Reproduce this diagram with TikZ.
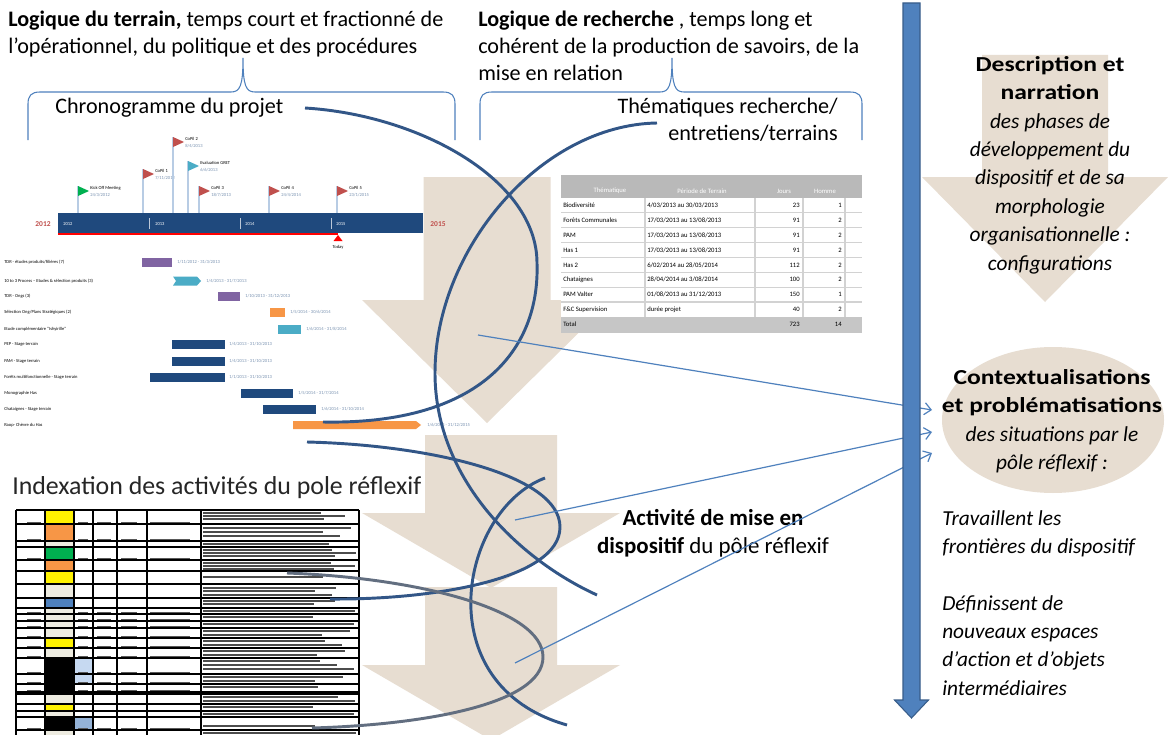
\documentclass[tikz,border=0pt]{standalone}
\usepackage{fontspec}
\setmainfont{Carlito}
\newfontfamily\widefont{Carlito}[FakeStretch=1.2]
\usetikzlibrary{arrows.meta}

\definecolor{beige}{RGB}{231,221,209}
\definecolor{curveblue}{RGB}{50,86,135}
\definecolor{curvegray}{RGB}{98,110,128}
\definecolor{linkblue}{RGB}{79,129,189}
\definecolor{arrowedge}{RGB}{56,93,138}
\definecolor{axisblue}{RGB}{31,73,125}
\definecolor{poleblue}{RGB}{184,204,228}
\definecolor{flagred}{RGB}{192,80,77}
\definecolor{flaggreen}{RGB}{0,176,80}
\definecolor{flagcyan}{RGB}{75,172,198}
\definecolor{gpurple}{RGB}{128,100,162}
\definecolor{gorange}{RGB}{247,150,70}
\definecolor{cellbeige}{RGB}{238,236,225}
\definecolor{cellblue}{RGB}{198,217,241}
\definecolor{cellblue2}{RGB}{149,179,215}

\tikzset{
  toptext/.style={font=\fontsize{16.6}{20.25}\selectfont, inner sep=0pt, align=left},
  righttext/.style={font=\widefont\fontsize{16}{21.3}\selectfont, inner sep=0pt},
  brace/.style={linkblue, line width=0.8pt},
  curve/.style={curveblue, line width=2.2pt},
  link/.style={linkblue, line width=0.9pt, -{Straight Barb[length=5pt,width=9pt]}},
  gtext/.style={font=\fontsize{3.4}{4}\selectfont, inner sep=0pt, anchor=west},
  gdate/.style={font=\fontsize{3.4}{4}\selectfont, text=axisblue!60, inner sep=0pt, anchor=west},
  ttext/.style={font=\fontsize{5}{6}\selectfont, inner sep=0pt},
}

% italic lines on the right are set without stretching
\newcommand{\itline}[1]{{\normalfont\itshape #1}}
% beige block arrow pointing down: centre, shaft half width, top, neck, head half width, tip
\newcommand{\downblock}[6]{%
  \fill[beige] (#1-#2,#3) -- (#1+#2,#3) -- (#1+#2,#4) -- (#1+#5,#4) -- (#1,#6)
    -- (#1-#5,#4) -- (#1-#2,#4) -- cycle;}
% milestone flag: x, top, colour, label, date
\newcommand{\ganttflag}[5]{%
  \draw[poleblue, line width=1.1pt] (#1,#2) -- (#1,213);
  \fill[#3] (#1,#2) -- (#1+11,#2+5) -- (#1,#2+10) -- cycle;
  \node[gtext] (fl#1) at (#1+12,#2+2) {#4};
  \node[gdate] (fd#1) at (#1+12,#2+9) {#5};}
% task row: y, label, x of date, date
\newcommand{\ganttrow}[4]{%
  \node[gtext] (gl#1) at (4,#1) {#2};
  \node[gdate] (gd#1) at (#3,#1) {#4};}
% row of the field table: index, theme, period, days, persons
\newcommand{\themerow}[5]{%
  \node[ttext, anchor=west] (th#1) at (563,190.6+#1*14.86) {#2};
  \node[ttext, anchor=west] (pe#1) at (647,190.6+#1*14.86) {#3};
  \node[ttext, anchor=east] (jo#1) at (800,190.6+#1*14.86) {#4};
  \node[ttext, anchor=east] (ho#1) at (842,190.6+#1*14.86) {#5};}

\begin{document}
\begin{tikzpicture}[x=0.75pt,y=-0.75pt]
\useasboundingbox (0,0) rectangle (1168,735);
\fill[white] (0,0) rectangle (1168,735);

% beige arrows and ellipse
\downblock{487}{63.5}{177}{300}{125}{423}
\downblock{491}{66}{435}{513}{129}{588}
\downblock{491}{66}{587}{665}{129}{740}
\downblock{1045}{63}{55}{177}{123}{302}
\fill[beige] (1053,420) ellipse [x radius=111, y radius=73];

% top texts and braces
\node[toptext, anchor=north west] (terrain) at (8,11)
  {\textbf{Logique du terrain,} temps court et fractionné de\\l’opérationnel, du politique et des procédures};
\node[toptext, anchor=north west] (recherche) at (478,11)
  {\textbf{Logique de recherche} , temps long et\\cohérent de la production de savoirs, de la\\mise en relation};
\draw[brace] (28,140) -- (28,104) .. controls (28,96) and (31,92) .. (40,92) -- (231,92)
  .. controls (240,92) and (243,86) .. (243,58) .. controls (243,86) and (246,92) .. (255,92)
  -- (443,92) .. controls (452,92) and (455,96) .. (455,104) -- (455,140);
\draw[brace] (480,140) -- (480,104) .. controls (480,96) and (483,92) .. (492,92) -- (660,92)
  .. controls (669,92) and (672,86) .. (672,58) .. controls (672,86) and (675,92) .. (684,92)
  -- (850,92) .. controls (859,92) and (862,96) .. (862,104) -- (862,140);
\node[toptext, anchor=west] (chrono) at (55,108) {Chronogramme du projet};
\node[toptext, anchor=north east, align=right] (themes) at (838,98) {Thématiques recherche/\\entretiens/terrains};

% timeline of the project
\fill[axisblue] (58,213) rectangle (423,233);
\draw[red, line width=1.4pt] (58,234) -- (338,234);
\fill[red] (338,235) -- (342.5,241) -- (333.5,241) -- cycle;
\node[gtext, anchor=center] (today) at (338,247) {Today};
\foreach \x/\yr in {63/2012,155/2013,245/2014,336/2015}
  \node[gtext, text=white] (yr\yr) at (\x,224) {\yr};
\foreach \x in {149,240,331}
  \draw[white!70!axisblue, line width=0.5pt] (\x,218) -- (\x,229);
\node[font=\fontsize{5.6}{6}\selectfont\bfseries, text=flagred, inner sep=0pt] (start) at (43,224) {2012};
\node[font=\fontsize{5.6}{6}\selectfont\bfseries, text=flagred, inner sep=0pt] (end) at (438,224) {2015};
\ganttflag{78}{186}{flaggreen}{Kick Off Meeting}{24/3/2012}
\ganttflag{143}{169}{flagred}{CoPil 1}{7/11/2012}
\ganttflag{173}{137}{flagred}{CoPil 2}{8/4/2013}
\ganttflag{188}{161}{flagcyan}{Evaluation GRET}{6/6/2013}
\ganttflag{199}{186}{flagred}{CoPil 3}{18/7/2013}
\ganttflag{269}{186}{flagred}{CoPil 4}{24/4/2014}
\ganttflag{337}{186}{flagred}{CoPil 5}{23/1/2015}

% tasks
\foreach \y/\a/\b/\c in {262/142/172/gpurple, 296/218/240/gpurple, 312/270/285/gorange,
    329/278/301/flagcyan, 344/172/225/axisblue, 361/172/225/axisblue, 377/150/225/axisblue,
    393/241/293/axisblue, 409/263/316/axisblue}
  \fill[\c] (\a,\y-4.5) rectangle (\b,\y+4.5);
\fill[flagcyan] (173,276.5) -- (197,276.5) -- (201,281) -- (197,285.5) -- (173,285.5) -- (176,281) -- cycle;
\fill[gorange] (293,421) -- (416,421) -- (421,425) -- (416,429) -- (293,429) -- cycle;
\ganttrow{262}{TDR - études produits/filières (7)}{177}{1/11/2012 - 31/3/2013}
\ganttrow{281}{10 to 3 Process – Etudes \& sélection produits (3)}{206}{1/4/2013 - 31/7/2013}
\ganttrow{296}{TDR - Ongs (3)}{245}{1/10/2013 - 31/12/2013}
\ganttrow{312}{Sélection Ong/Plans Stratégiques (2)}{290}{1/5/2014 - 30/6/2014}
\ganttrow{329}{Etude complémentaire "Ishyirille"}{306}{1/6/2014 - 31/8/2014}
\ganttrow{344}{PEP - Stage terrain}{229}{1/4/2013 - 31/10/2013}
\ganttrow{361}{PAM - Stage terrain}{229}{1/4/2013 - 31/10/2013}
\ganttrow{377}{Forêts multifonctionnelle - Stage terrain}{229}{1/1/2013 - 31/10/2013}
\ganttrow{393}{Monographie Has}{298}{1/5/2014 - 31/7/2014}
\ganttrow{409}{Chataignes - Stage terrain}{321}{1/6/2014 - 31/10/2014}
\ganttrow{425}{Raop- Chèvre du Has}{427}{1/6/2014 - 31/12/2015}

% table of field work
\fill[white] (561,175) rectangle (862,333);
\fill[gray!55] (561,175) rectangle (862,198);
\fill[gray!45] (561,316.9) rectangle (862,333);
\foreach \i in {1,...,7}
  \draw[gray!35, line width=0.8pt] (561,198+\i*14.86) -- (862,198+\i*14.86);
\foreach \x in {645,755,803,845}
  \draw[gray!35, line width=0.8pt] (\x,198) -- (\x,316.9);
\foreach \x/\h in {610/Thématique,702/Période de Terrain,784/Jours,825/Homme}
  \node[ttext, text=white] (h\x) at (\x,191) {\h};
\themerow{1}{Biodiversité}{4/03/2013 au 30/03/2013}{23}{1}
\themerow{2}{Forêts Communales}{17/03/2013 au 13/08/2013}{91}{2}
\themerow{3}{PAM}{17/03/2013 au 13/08/2013}{91}{2}
\themerow{4}{Has 1}{17/03/2013 au 13/08/2013}{91}{2}
\themerow{5}{Has 2}{6/02/2014 au 28/05/2014}{112}{2}
\themerow{6}{Chataignes}{28/04/2014 au 3/08/2014}{100}{2}
\themerow{7}{PAM Valter}{01/08/2013 au 31/12/2013}{150}{1}
\themerow{8}{F\&C Supervision}{durée projet}{40}{2}
\themerow{9}{Total}{}{723}{14}

% index of the activities
\node[font=\fontsize{19.4}{22}\selectfont, text=black!85, inner sep=0pt, anchor=west] (index) at (12,488)
  {Indexation des activités du pole réflexif};
\foreach \a/\b/\c in {510/524/yellow, 524/541/gorange, 541/547/cellbeige, 547/560/flaggreen,
    560/571/gorange, 571/584/yellow, 584/598/cellbeige, 598/608/linkblue, 608/638/cellbeige,
    638/648/yellow, 648/658/cellbeige, 658/692/black, 692/694/yellow, 694/704/cellbeige,
    704/711/yellow, 711/717/cellbeige, 717/730/black, 730/735/cellbeige}
  \fill[\c] (45,\a) rectangle (74,\b);
\fill[cellblue] (74,658) rectangle (93,684);
\fill[cellblue2] (74,717) rectangle (93,730);
\foreach \y in {510,524,541,547,560,571,584,598,608,614,621,628,638,648,658,674,684,692,694,704,711,717,730}
  \draw[black, line width=0.8pt] (16,\y) -- (359,\y);
\foreach \x in {16,45,74,93,117,147,201,359}
  \draw[black, line width=0.8pt] (\x,510) -- (\x,735);
\foreach \y in {513,516,519,528,532,536,544,550,553,556,563,566,569,577,588,591,595,601,604,
    611,617,624,631,635,641,645,651,655,661,665,669,677,681,687,697,701,707,714,726,733}
  \draw[black!70, line width=0.9pt] (203,\y) -- ({357-mod(\y*7,45)},\y);
\foreach \y in {522,539,558,612,619,626,636,646,656,672,682,690,728}
  \draw[black!65, line width=0.7pt] (27,\y) -- (41,\y) (78,\y) -- (88,\y) (97,\y) -- (111,\y)
    (121,\y) -- (137,\y) (150,\y) -- (190,\y);

% texts in the middle and on the right
\node[font=\fontsize{17.2}{21}\selectfont, inner sep=0pt, align=center] (mise) at (713,533)
  {\textbf{Activité de mise en}\\\textbf{dispositif} du pôle réflexif};
\node[righttext, anchor=north, align=center] (descr) at (1050,56)
  {\textbf{Description et}\\\textbf{narration}\\\itline{des phases de}\\\itline{développement du}\\
   \itline{dispositif et de sa}\\\itline{morphologie}\\\itline{organisationnelle :}\\\itline{configurations}};
\node[righttext, anchor=north, align=center] (context) at (1052,369)
  {\textbf{Contextualisations}\\\textbf{et problématisations}\\\itline{des situations par le}\\\itline{pôle réflexif :}};
\node[righttext, anchor=north west, align=left] (travail) at (942,510)
  {\itline{Travaillent les}\\\itline{frontières du dispositif}};
\node[righttext, anchor=north west, align=left] (espaces) at (942,595)
  {\itline{Définissent de}\\\itline{nouveaux espaces}\\\itline{d’action et d’objets}\\\itline{intermédiaires}};

% curves
\coordinate (xs) at (305,108);
\coordinate (xm) at (537,263);
\coordinate (xe) at (323,422);
\coordinate (ys) at (657,123);
\coordinate (ym) at (435,373);
\coordinate (ye) at (597,595);
\coordinate (zs) at (307,442);
\coordinate (zm) at (560,527);
\coordinate (ze) at (330,599);
\coordinate (ws) at (545,478);
\coordinate (we) at (567,725);
\coordinate (vs) at (287,573);
\coordinate (vm) at (543,657);
\coordinate (ve) at (312,728);
\draw[curve] (xs) .. controls (420,115) and (537,180) .. (xm) .. controls (540,350) and (480,425) .. (xe);
\draw[curve] (ys) .. controls (540,125) and (435,250) .. (ym) .. controls (435,480) and (520,560) .. (ye);
\draw[curve] (zs) .. controls (430,445) and (560,475) .. (zm) .. controls (560,580) and (430,600) .. (ze);
\draw[curve] (ws) .. controls (460,510) and (425,685) .. (we);
\draw[curve, curvegray] (vs) .. controls (420,578) and (543,610) .. (vm) .. controls (543,705) and (420,725) .. (ve);

% links towards the ellipse
\coordinate (a1) at (478,335);
\coordinate (a2) at (515,520);
\coordinate (a3) at (515,663);
\coordinate (e1) at (932,410);
\coordinate (e2) at (932,432);
\coordinate (e3) at (932,453);
\draw[link] (a1) -- (e1);
\draw[link] (a2) -- (e2);
\draw[link] (a3) -- (e3);

% time axis
\filldraw[fill=linkblue, draw=arrowedge, line width=0.8pt] (903,3) -- (920,3) -- (920,700) -- (928.5,700)
  -- (911.5,718) -- (894.5,700) -- (903,700) -- cycle;
\end{tikzpicture}
\end{document}
